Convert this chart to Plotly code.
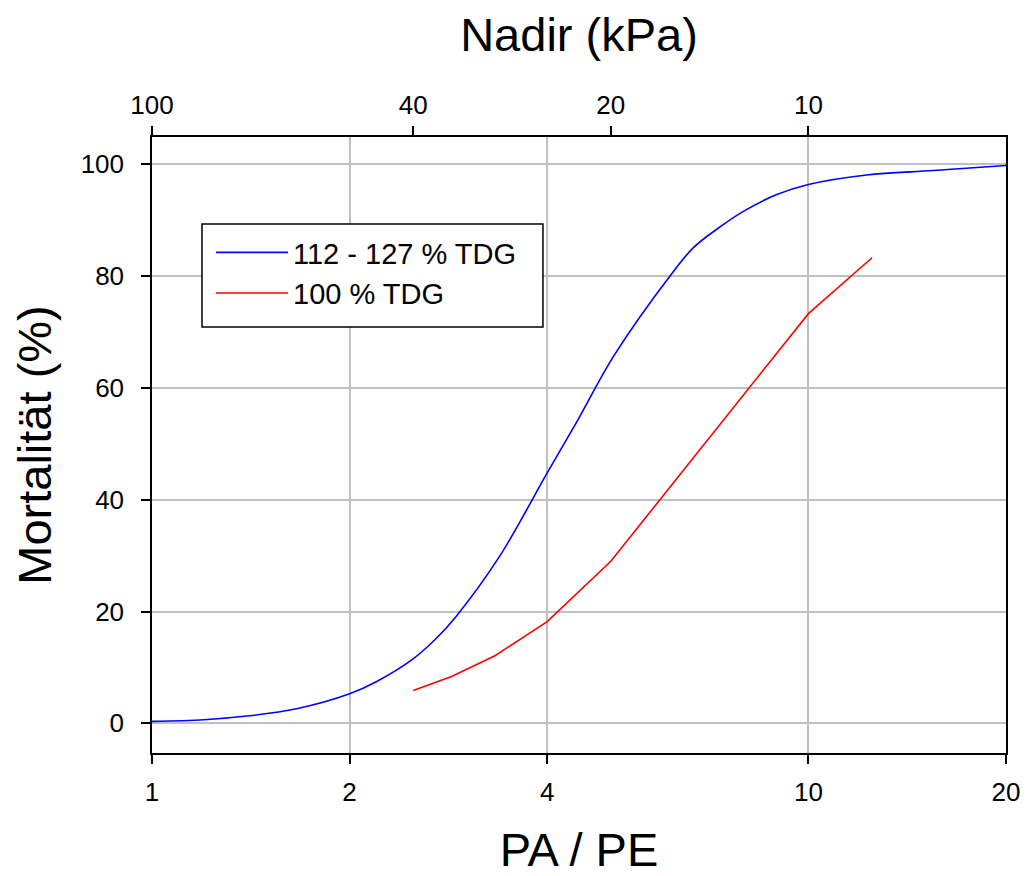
import plotly.graph_objects as go
import math

# ---- data ----
blue_x = [1.0, 1.2, 1.394, 1.66, 2.0, 2.2, 2.49, 2.7, 2.9, 3.39, 3.99, 4.46, 5.05,
          6.15, 6.68, 7.25, 7.96, 8.95, 10.0, 12.27, 15.5, 20.0]
blue_y = [0.36, 0.65, 1.31, 2.62, 5.3, 7.5, 11.4, 15.0, 19.0, 30.0, 44.6, 54.4, 65.7,
          80.0, 85.1, 88.4, 91.6, 94.6, 96.4, 98.1, 98.9, 99.8]
red_x = [2.5, 2.86, 3.33, 4.0, 5.0, 10.0, 12.5]
red_y = [5.9, 8.4, 12.1, 18.2, 29.0, 73.3, 83.3]

blue_name = "112 - 127 % TDG"
red_name = "100 % TDG"

bottom_tickvals = [1, 2, 4, 10, 20]
bottom_ticktext = ["1", "2", "4", "10", "20"]
nadir_ticks = [100, 40, 20, 10]          # kPa; Nadir = 100 / (PA/PE)
nadir_pos = [100.0 / n for n in nadir_ticks]
nadir_text = [str(n) for n in nadir_ticks]
y_ticks = [0, 20, 40, 60, 80, 100]

FONT = "Arial, Liberation Sans, sans-serif"
GRID = "#c0c0c0"

fig = go.Figure()
fig.add_trace(go.Scatter(x=blue_x, y=blue_y, mode="lines", name=blue_name,
                         line=dict(color="#0000ff", width=1.6, shape="spline", smoothing=1.0)))
fig.add_trace(go.Scatter(x=red_x, y=red_y, mode="lines", name=red_name,
                         line=dict(color="#ff0000", width=1.6)))
# carrier trace for the top (Nadir) axis
fig.add_trace(go.Scatter(x=[1, 20], y=[None, None], xaxis="x2", mode="lines",
                         showlegend=False, hoverinfo="skip"))

xr = [0, math.log10(20)]
# page body has an 8px margin, so the figure is 8px smaller and the margins compensate
fig.update_layout(
    width=1021, height=868,
    paper_bgcolor="white", plot_bgcolor="white",
    margin=dict(l=144, r=23, t=129, b=123, autoexpand=False),
    font=dict(family=FONT, color="black", size=26),
    showlegend=True,
    legend=dict(x=0.0691, y=0.8539, xanchor="left", yanchor="top",
                bgcolor="rgba(0,0,0,0)", borderwidth=0,
                font=dict(size=29), itemwidth=72),
    # legend frame
    shapes=[dict(type="rect", xref="paper", yref="paper",
                 x0=0.05855, x1=0.4578, y0=0.6916, y1=0.8588,
                 line=dict(color="black", width=1.5), fillcolor="white", layer="above")],
    xaxis=dict(type="log", range=xr, tickvals=bottom_tickvals, ticktext=bottom_ticktext,
               automargin=False,
               showgrid=True, gridcolor=GRID, gridwidth=1.5,
               showline=True, linecolor="black", linewidth=1.5, mirror=False,
               ticks="outside", ticklen=9, tickwidth=1.5, tickcolor="black",
               tickfont=dict(size=26), ticklabelstandoff=6,
               title=dict(text="PA / PE", font=dict(size=47), standoff=33),
               zeroline=False),
    xaxis2=dict(type="log", range=xr, overlaying="x", side="top",
                automargin=False,
                tickvals=nadir_pos, ticktext=nadir_text,
                showgrid=False, showline=True, linecolor="black", linewidth=1.5,
                ticks="outside", ticklen=9, tickwidth=1.5, tickcolor="black",
                tickfont=dict(size=26), ticklabelstandoff=2,
                title=dict(text="Nadir (kPa)", font=dict(size=47), standoff=32),
                zeroline=False),
    yaxis=dict(range=[-5.3, 104.9], tickvals=y_ticks, automargin=False,
               showgrid=True, gridcolor=GRID, gridwidth=1.5,
               showline=True, linecolor="black", linewidth=1.5, mirror=True,
               ticks="outside", ticklen=9, tickwidth=1.5, tickcolor="black",
               tickfont=dict(size=26), ticklabelstandoff=12,
               title=dict(text="Mortalität (%)", font=dict(size=47), standoff=31),
               zeroline=False),
)

fig.write_html("out.html")
